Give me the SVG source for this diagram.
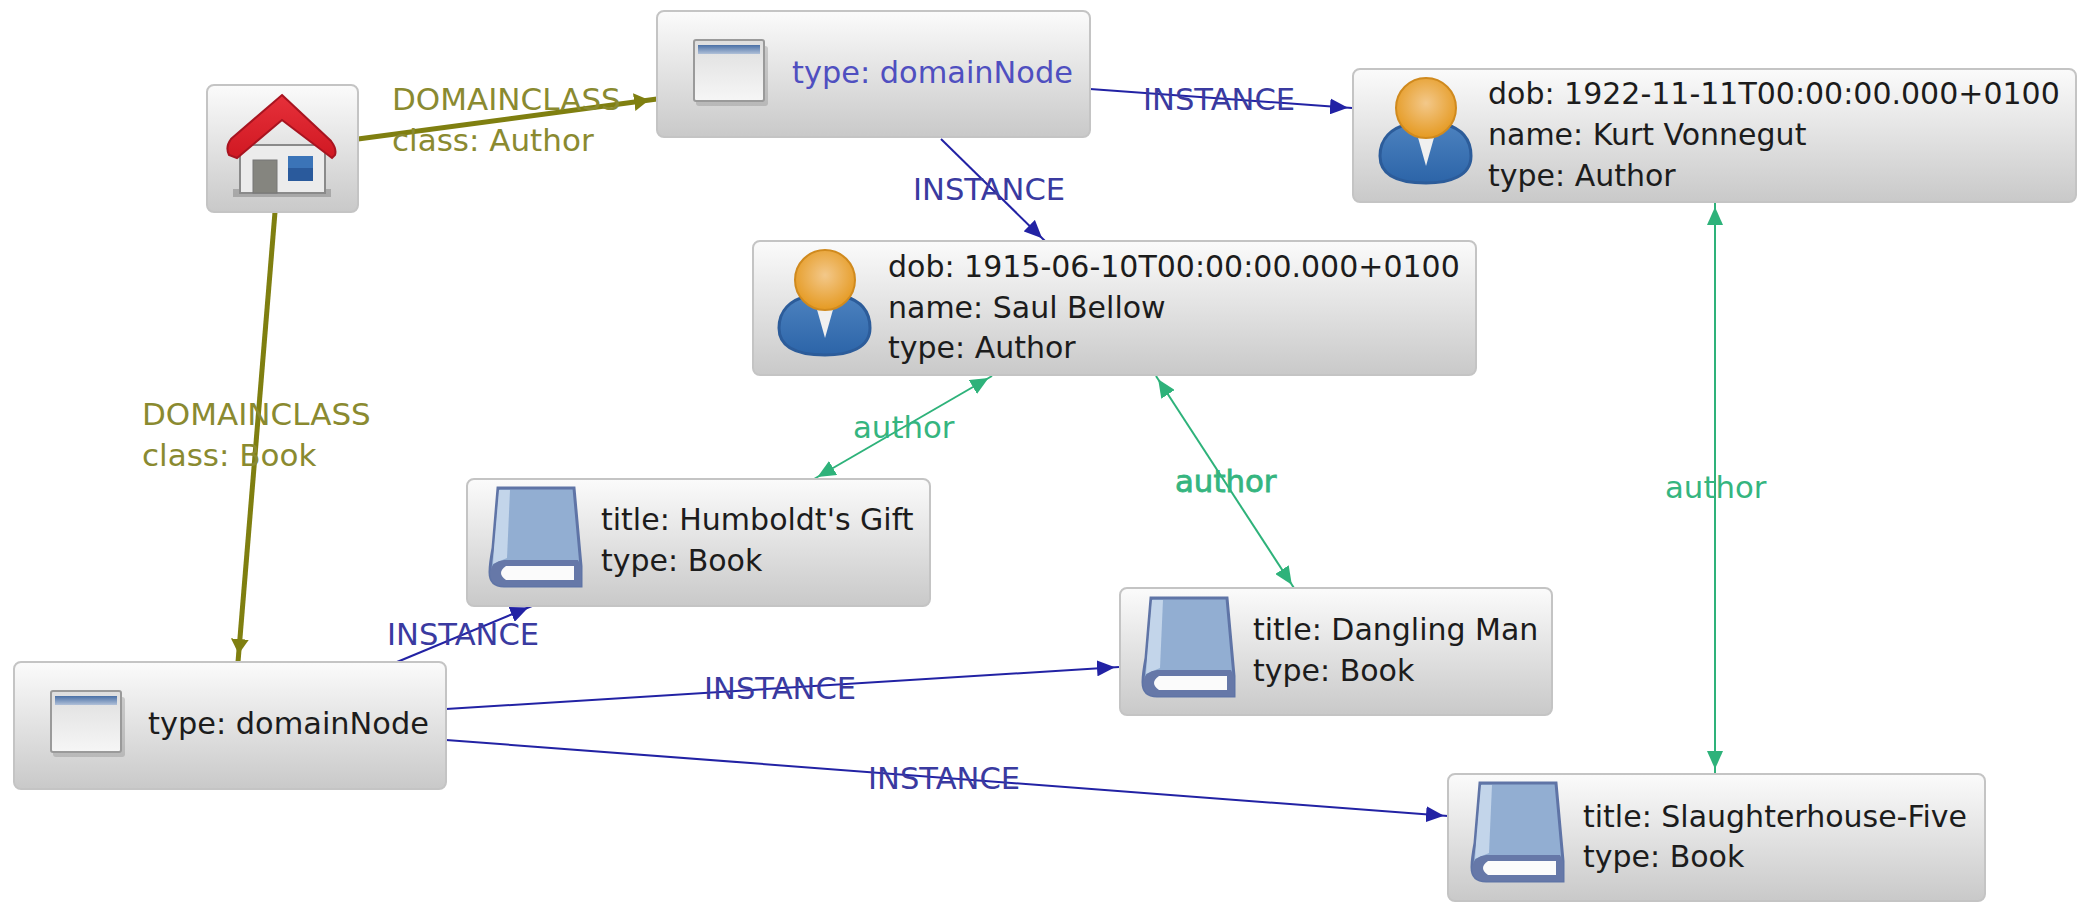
<svg xmlns="http://www.w3.org/2000/svg" width="2077" height="905" viewBox="0 0 2077 905">
<style>
text{font-family:"DejaVu Sans",sans-serif;font-size:30px}
.n{fill:url(#nodeGrad);stroke:#c4c4c4;stroke-width:2}
.t{fill:#1c1c1c}
.d{font-size:30.4px}
.tb{fill:#4f4fc0}
.ol{fill:#8a8a30;font-size:31px}
.in{fill:#3a3aa0;font-size:30.6px}
.au{fill:#35b57f;font-size:30.8px}
.cOl{fill:none;stroke:#7f7f10;stroke-width:5}
.cIn{fill:none;stroke:#2222a4;stroke-width:2}
.cAu{fill:none;stroke:#2eb27a;stroke-width:2}
</style>
<defs>
<linearGradient id="nodeGrad" x1="0" y1="0" x2="0" y2="1"><stop offset="0" stop-color="#fbfbfb"/><stop offset="1" stop-color="#c9c9c9"/></linearGradient>
<linearGradient id="winBody" x1="0" y1="0" x2="0" y2="1"><stop offset="0" stop-color="#dedede"/><stop offset="1" stop-color="#f6f6f6"/></linearGradient>
<linearGradient id="winBar" x1="0" y1="0" x2="0" y2="1"><stop offset="0" stop-color="#4a70a6"/><stop offset="1" stop-color="#b0c0d8"/></linearGradient>
<radialGradient id="head" cx="0.5" cy="0.42" r="0.58"><stop offset="0" stop-color="#f3c88a"/><stop offset="1" stop-color="#e59a22"/></radialGradient>
<linearGradient id="suit" x1="0" y1="0" x2="0" y2="1"><stop offset="0" stop-color="#4c82bf"/><stop offset="1" stop-color="#2c64a8"/></linearGradient>
<linearGradient id="roof" x1="0" y1="0" x2="0" y2="1"><stop offset="0" stop-color="#e6303a"/><stop offset="1" stop-color="#d01822"/></linearGradient>
<marker id="aOl" markerUnits="userSpaceOnUse" viewBox="0 0 24 18" refX="23" refY="9" markerWidth="24" markerHeight="18" orient="auto"><path d="M0 0L15 9L0 18z" fill="#7f7f10"/></marker>
<marker id="aIn" markerUnits="userSpaceOnUse" viewBox="0 0 23 16" refX="22" refY="8" markerWidth="23" markerHeight="16" orient="auto-start-reverse"><path d="M0 0L18 8L0 16z" fill="#2222a4"/></marker>
<marker id="aAu" markerUnits="userSpaceOnUse" viewBox="0 0 23 16" refX="22" refY="8" markerWidth="23" markerHeight="16" orient="auto-start-reverse"><path d="M0 0L18 8L0 16z" fill="#2eb27a"/></marker>
<g id="iWin"><rect x="2" y="6" width="72" height="60" rx="3" fill="#777" opacity=".3"/><rect width="70" height="61" rx="2" fill="url(#winBody)" stroke="#9a9a9a" stroke-width="2"/><rect x="4" y="5" width="62" height="9" fill="url(#winBar)"/></g>
<g id="iBook"><path d="M8 0H84L91 78V98H14Q0 98 0 84Q0 76 3 60Z" fill="#92aed2" stroke="#5f74a6" stroke-width="3"/><path d="M9 2H20L17 70L3 76L4 60Z" fill="#c3d5ea"/><path d="M14 72H88L91 78V98H14Q0 98 0 84Q2 73 14 72Z" fill="#6678a8"/><path d="M16 78H84V92H16Q6 85 16 78Z" fill="#fbfbfb"/></g>
<g id="iUser"><path d="M0 78C0 60 12 50 28 46H64C80 50 91 60 91 78C91 98 70 105 46 105C20 105 0 98 0 78Z" fill="url(#suit)" stroke="#2c5c9a" stroke-width="3"/><path d="M37 56H55L46 88Z" fill="#f0f0f0"/><circle cx="46" cy="30" r="30" fill="url(#head)" stroke="#d08a1e" stroke-width="2"/></g>
<g id="iHouse"><rect x="6" y="94" width="98" height="8" fill="#777" opacity=".45"/><path d="M13 50H98V98H13Z" fill="#ececec" stroke="#8a8a8a" stroke-width="2"/><path d="M55 0L104 46Q110 54 108 60L105 63L55 25L10 63L2 60Q-2 52 4 44Z" fill="url(#roof)" stroke="#a81420" stroke-width="2"/><rect x="26" y="65" width="24" height="33" fill="#85857f" stroke="#777"/><rect x="61" y="61" width="25" height="25" fill="#3b74b8"/><rect x="61" y="73" width="25" height="13" fill="#2a5a9c"/></g>
</defs>

<g id="connectors">
<path class="cOl" marker-end="url(#aOl)" d="M358 139L657 99"/>
<path class="cOl" marker-end="url(#aOl)" d="M275 212L238 662"/>
<path class="cIn" marker-end="url(#aIn)" d="M1090 89L1352 108"/>
<path class="cIn" marker-end="url(#aIn)" d="M941 139L1045 241"/>
<path class="cIn" marker-end="url(#aIn)" d="M397 662L532 606"/>
<path class="cIn" marker-end="url(#aIn)" d="M446 709L1119 667"/>
<path class="cIn" marker-end="url(#aIn)" d="M446 740L1448 816"/>
<path class="cAu" marker-start="url(#aAu)" marker-end="url(#aAu)" d="M992 376L814 479"/>
<path class="cAu" marker-start="url(#aAu)" marker-end="url(#aAu)" d="M1156 376L1294 588"/>
<path class="cAu" marker-start="url(#aAu)" marker-end="url(#aAu)" d="M1715 203L1715 773"/>
<text class="ol" x="392" y="110">DOMAINCLASS</text>
<text class="ol" x="392" y="151">class: Author</text>
<text class="ol" x="142" y="425">DOMAINCLASS</text>
<text class="ol" x="142" y="466">class: Book</text>
<text class="in" x="1143" y="110">INSTANCE</text>
<text class="in" x="913" y="200">INSTANCE</text>
<text class="in" x="387" y="645">INSTANCE</text>
<text class="in" x="704" y="699">INSTANCE</text>
<text class="in" x="868" y="789">INSTANCE</text>
<text class="au" x="853" y="438">author</text>
<text class="au" x="1175" y="492" stroke="#35b57f" stroke-width=".8">author</text>
<text class="au" x="1665" y="498">author</text>
</g>

<g id="nodeHome"><rect class="n" x="207" y="85" width="151" height="127" rx="7"/><use href="#iHouse" x="227" y="95"/></g>
<g id="nodeDomainTop"><rect class="n" x="657" y="11" width="433" height="126" rx="7"/><use href="#iWin" x="694" y="40"/><text class="tb d" x="792" y="83">type: domainNode</text></g>
<g id="nodeKurt"><rect class="n" x="1353" y="69" width="723" height="133" rx="7"/><use href="#iUser" x="1380" y="78"/><text class="t" x="1488" y="104">dob: 1922-11-11T00:00:00.000+0100</text><text class="t" x="1488" y="145">name: Kurt Vonnegut</text><text class="t" x="1488" y="186">type: Author</text></g>
<g id="nodeSaul"><rect class="n" x="753" y="241" width="723" height="134" rx="7"/><use href="#iUser" x="779" y="250"/><text class="t" x="888" y="277">dob: 1915-06-10T00:00:00.000+0100</text><text class="t" x="888" y="318">name: Saul Bellow</text><text class="t" x="888" y="358">type: Author</text></g>
<g id="nodeHumboldt"><rect class="n" x="467" y="479" width="463" height="127" rx="7"/><use href="#iBook" x="490" y="488"/><text class="t" x="601" y="530">title: Humboldt's Gift</text><text class="t" x="601" y="571">type: Book</text></g>
<g id="nodeDangling"><rect class="n" x="1120" y="588" width="432" height="127" rx="7"/><use href="#iBook" x="1143" y="598"/><text class="t" x="1253" y="640">title: Dangling Man</text><text class="t" x="1253" y="681">type: Book</text></g>
<g id="nodeDomainBottom"><rect class="n" x="14" y="662" width="432" height="127" rx="7"/><use href="#iWin" x="51" y="691"/><text class="t d" x="148" y="734">type: domainNode</text></g>
<g id="nodeSlaughter"><rect class="n" x="1448" y="774" width="537" height="127" rx="7"/><use href="#iBook" x="1472" y="783"/><text class="t" x="1583" y="827">title: Slaughterhouse-Five</text><text class="t" x="1583" y="867">type: Book</text></g>
</svg>
